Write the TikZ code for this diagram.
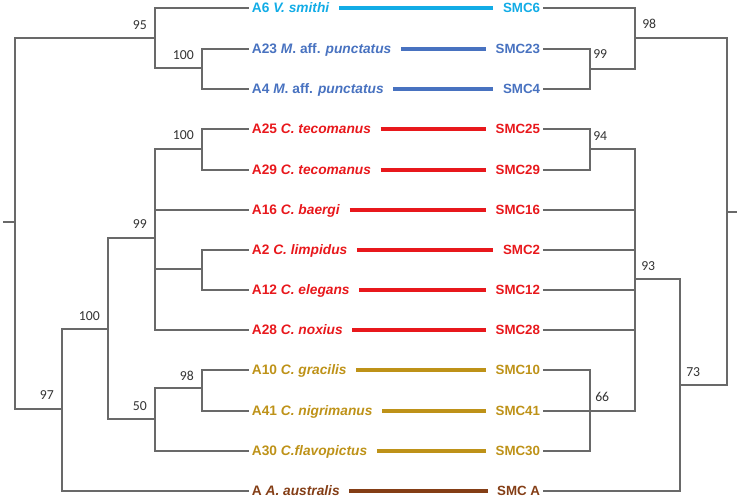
\documentclass[tikz,border=0pt]{standalone}
\usepackage{fontspec}
\setmainfont{Liberation Sans}
\newfontfamily\numfont{Carlito}
\definecolor{treegray}{RGB}{105,105,105}
\definecolor{smcyan}{RGB}{18,172,230}
\definecolor{smblue}{RGB}{72,114,192}
\definecolor{smred}{RGB}{232,24,28}
\definecolor{smgold}{RGB}{190,146,24}
\definecolor{smbrown}{RGB}{132,62,22}
\usepackage{tikz}

\begin{document}
\begin{tikzpicture}[x=0.75pt, y=-0.75pt]
    \tikzstyle{leaf} = [anchor=west, inner sep=2pt, font=\bfseries\fontsize{10.3}{12}\selectfont,
        text height=0.72em, text depth=0pt]
    \tikzstyle{smc} = [anchor=east, inner sep=2pt, font=\bfseries\fontsize{10}{12}\selectfont,
        text height=0.72em, text depth=0pt]
    \tikzstyle{pair} = [line width=2.4pt, shorten <=5pt, shorten >=5pt]
    \tikzstyle{tree} = [line width=0.85pt, color=treegray]
    \tikzstyle{lbl} = [inner sep=0pt, font=\numfont\fontsize{10.3}{12}\selectfont, text=black!80]

    \useasboundingbox (0,0) rectangle (740,501);

    % left tree: A sequences
    \node [leaf, text=smcyan] (a6) at (249,8) {A6 \textit{V. smithi}};
    \node [leaf, text=smblue] (a23) at (249,49) {A23 \textit{M}. aff. \textit{punctatus}};
    \node [leaf, text=smblue] (a4) at (249,89) {A4 \textit{M}. aff. \textit{punctatus}};
    \node [leaf, text=smred] (a25) at (249,129) {A25 \textit{C. tecomanus}};
    \node [leaf, text=smred] (a29) at (249,170) {A29 \textit{C. tecomanus}};
    \node [leaf, text=smred] (a16) at (249,210) {A16 \textit{C. baergi}};
    \node [leaf, text=smred] (a2) at (249,250) {A2 \textit{C. limpidus}};
    \node [leaf, text=smred] (a12) at (249,290) {A12 \textit{C. elegans}};
    \node [leaf, text=smred] (a28) at (249,330) {A28 \textit{C. noxius}};
    \node [leaf, text=smgold] (a10) at (249,370) {A10 \textit{C. gracilis}};
    \node [leaf, text=smgold] (a41) at (249,411) {A41 \textit{C. nigrimanus}};
    \node [leaf, text=smgold] (a30) at (249,451) {A30 \textit{C.flavopictus}};
    \node [leaf, text=smbrown] (aA) at (249,491) {A \textit{A. australis}};

    % right tree: SMC sequences
    \node [smc, text=smcyan] (s6) at (543,8) {SMC6};
    \node [smc, text=smblue] (s23) at (543,49) {SMC23};
    \node [smc, text=smblue] (s4) at (543,89) {SMC4};
    \node [smc, text=smred] (s25) at (543,129) {SMC25};
    \node [smc, text=smred] (s29) at (543,170) {SMC29};
    \node [smc, text=smred] (s16) at (543,210) {SMC16};
    \node [smc, text=smred] (s2) at (543,250) {SMC2};
    \node [smc, text=smred] (s12) at (543,290) {SMC12};
    \node [smc, text=smred] (s28) at (543,330) {SMC28};
    \node [smc, text=smgold] (s10) at (543,370) {SMC10};
    \node [smc, text=smgold] (s41) at (543,411) {SMC41};
    \node [smc, text=smgold] (s30) at (543,451) {SMC30};
    \node [smc, text=smbrown] (sA) at (543,491) {SMC A};

    % links between the two trees
    \draw [pair, smcyan] (a6) -- (s6);
    \draw [pair, smblue] (a23) -- (s23);
    \draw [pair, smblue] (a4) -- (s4);
    \draw [pair, smred] (a25) -- (s25);
    \draw [pair, smred] (a29) -- (s29);
    \draw [pair, smred] (a16) -- (s16);
    \draw [pair, smred] (a2) -- (s2);
    \draw [pair, smred] (a12) -- (s12);
    \draw [pair, smred] (a28) -- (s28);
    \draw [pair, smgold] (a10) -- (s10);
    \draw [pair, smgold] (a41) -- (s41);
    \draw [pair, smgold] (a30) -- (s30);
    \draw [pair, smbrown] (aA) -- (sA);

    % left branching points
    \coordinate (lstub) at (3,222);
    \coordinate (lroot) at (15,222);
    \coordinate (l95) at (155,38);
    \coordinate (l100a) at (202,68);
    \coordinate (l97) at (62,409);
    \coordinate (l100b) at (108,329);
    \coordinate (l99) at (155,238);
    \coordinate (l100c) at (202,149);
    \coordinate (lce) at (202,269);
    \coordinate (l50) at (155,419);
    \coordinate (l98) at (202,388);

    \draw [tree] (lstub) -- (lroot);
    \draw [tree] (lroot) |- (l95);
    \draw [tree] (lroot) |- (l97);
    \draw [tree] (l95) |- (a6.west);
    \draw [tree] (l95) |- (l100a);
    \draw [tree] (l100a) |- (a23.west);
    \draw [tree] (l100a) |- (a4.west);
    \draw [tree] (l97) |- (l100b);
    \draw [tree] (l97) |- (aA.west);
    \draw [tree] (l100b) |- (l99);
    \draw [tree] (l100b) |- (l50);
    \draw [tree] (l99) |- (l100c);
    \draw [tree] (l99) |- (a16.west);
    \draw [tree] (l99) |- (lce);
    \draw [tree] (l99) |- (a28.west);
    \draw [tree] (l100c) |- (a25.west);
    \draw [tree] (l100c) |- (a29.west);
    \draw [tree] (lce) |- (a2.west);
    \draw [tree] (lce) |- (a12.west);
    \draw [tree] (l50) |- (l98);
    \draw [tree] (l50) |- (a30.west);
    \draw [tree] (l98) |- (a10.west);
    \draw [tree] (l98) |- (a41.west);

    \node [lbl, anchor=south east] (t95) at ([shift={(-8,-8.5)}]l95) {95};
    \node [lbl, anchor=south east] (t100a) at ([shift={(-8,-8.5)}]l100a) {100};
    \node [lbl, anchor=south east] (t97) at ([shift={(-8,-9.5)}]l97) {97};
    \node [lbl, anchor=south east] (t100b) at ([shift={(-8,-8.5)}]l100b) {100};
    \node [lbl, anchor=south east] (t99) at ([shift={(-8,-9)}]l99) {99};
    \node [lbl, anchor=south east] (t100c) at ([shift={(-8,-9)}]l100c) {100};
    \node [lbl, anchor=south east] (t50) at ([shift={(-8,-8)}]l50) {50};
    \node [lbl, anchor=south east] (t98) at ([shift={(-8,-7)}]l98) {98};

    % right branching points
    \coordinate (rstub) at (737,212);
    \coordinate (rroot) at (727,212);
    \coordinate (r98) at (635,38);
    \coordinate (r99) at (590,69);
    \coordinate (r94) at (590,149);
    \coordinate (r93) at (635,279);
    \coordinate (r66) at (590,410);
    \coordinate (r73) at (680,385);

    \draw [tree] (rroot) -- (rstub);
    \draw [tree] (r98) -| (rroot);
    \draw [tree] (r73) -| (rroot);
    \draw [tree] (s6.east) -| (r98);
    \draw [tree] (r99) -| (r98);
    \draw [tree] (s23.east) -| (r99);
    \draw [tree] (s4.east) -| (r99);
    \draw [tree] (s25.east) -| (r94);
    \draw [tree] (s29.east) -| (r94);
    \draw [tree] (r94) -| (r93);
    \draw [tree] (s16.east) -| (r93);
    \draw [tree] (s2.east) -| (r93);
    \draw [tree] (s12.east) -| (r93);
    \draw [tree] (s28.east) -| (r93);
    \draw [tree] (s41.east) -| (r93);
    \draw [tree] (s10.east) -| (r66);
    \draw [tree] (s30.east) -| (r66);
    \draw [tree] (r93) -| (r73);
    \draw [tree] (sA.east) -| (r73);

    \node [lbl, anchor=south west] (u98) at ([shift={(7,-9)}]r98) {98};
    \node [lbl, anchor=south west] (u99) at ([shift={(3,-10)}]r99) {99};
    \node [lbl, anchor=south west] (u94) at ([shift={(3,-8)}]r94) {94};
    \node [lbl, anchor=south west] (u93) at ([shift={(6,-8)}]r93) {93};
    \node [lbl, anchor=south west] (u66) at ([shift={(5,-8)}]r66) {66};
    \node [lbl, anchor=south west] (u73) at ([shift={(6,-8)}]r73) {73};
\end{tikzpicture}
\end{document}
